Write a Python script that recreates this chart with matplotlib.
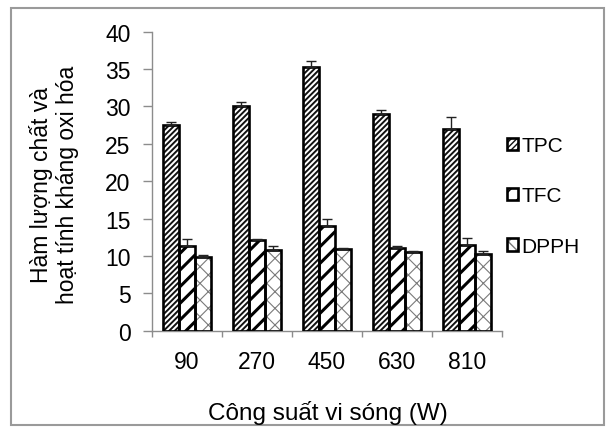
import numpy as np
import matplotlib
matplotlib.use("Agg")
import matplotlib.pyplot as plt
from matplotlib.patches import Rectangle
from matplotlib.legend_handler import HandlerTuple

# --- DATA ---
powers = ["90", "270", "450", "630", "810"]
tpc = [27.5, 30.0, 35.3, 29.0, 27.0]
tpc_err = [0.4, 0.6, 0.8, 0.5, 1.6]
tfc = [11.3, 12.1, 14.0, 11.1, 11.4]
tfc_err = [1.0, 0.2, 0.9, 0.2, 1.0]
dpph = [9.9, 10.8, 10.9, 10.5, 10.2]
dpph_err = [0.2, 0.5, 0.2, 0.1, 0.5]

series = ["TPC", "TFC", "DPPH"]
values = [tpc, tfc, dpph]
errors = [tpc_err, tfc_err, dpph_err]

# --- STYLE ---
plt.rcParams["font.family"] = ["Liberation Sans", "DejaVu Sans"]
hatches = ["//////", "//", "xx"]
hatch_colors = ["#111111", "#000000", "#7a7a7a"]
hatch_widths = [1.4, 2.2, 0.8]
axis_gray = "#8c8c8c"

fig = plt.figure(figsize=(6.06, 4.31), dpi=100)
ax = fig.add_axes([152 / 606, 1 - 331.7 / 431, 350 / 606, 299 / 431])

x = np.arange(len(powers))
width = 0.225
handles = []
for i, (name, vals, errs) in enumerate(zip(series, values, errors)):
    pos = x + (i - 1) * width
    with plt.rc_context({"hatch.linewidth": hatch_widths[i]}):
        hb = ax.bar(pos, vals, width, color="white", edgecolor=hatch_colors[i],
                    hatch=hatches[i], linewidth=0, zorder=2)
        for p in hb:
            if hasattr(p, "set_hatch_linewidth"):
                p.set_hatch_linewidth(hatch_widths[i])
    eb = ax.bar(pos, vals, width, fill=False, edgecolor="black", linewidth=1.9, zorder=3)
    ax.errorbar(pos, vals, yerr=[np.zeros(len(errs)), errs], fmt="none",
                ecolor="#222222", elinewidth=1.0, capsize=3.6, capthick=1.0, zorder=4)
    handles.append((hb[0], eb[0]))

# --- AXES ---
ax.set_xlim(-0.5, len(powers) - 0.5)
ax.set_ylim(0, 40)
ax.set_yticks(np.arange(0, 41, 5))
ax.set_xticks(np.arange(-0.5, len(powers), 1.0))
ax.set_xticklabels([])
ax.set_xticks(x, powers, minor=True)
ax.tick_params(axis="x", which="minor", length=0, pad=14, labelsize=16.5)
ax.tick_params(axis="x", which="major", length=4.5, color=axis_gray, width=1)
ax.tick_params(axis="y", length=6.5, color=axis_gray, width=1, pad=9, labelsize=16.5)
for s in ["top", "right"]:
    ax.spines[s].set_visible(False)
for s in ["left", "bottom"]:
    ax.spines[s].set_color(axis_gray)
    ax.spines[s].set_linewidth(1)

# --- LABELS ---
fig.text(54 / 606, 1 - 185 / 431, "Hàm lượng chất và\nhoạt tính kháng oxi hóa",
         rotation=90, ha="center", va="center", multialignment="center",
         fontsize=16.5, linespacing=1.2)
fig.text(328 / 606, 1 - 420 / 431, "Công suất vi sóng (W)", ha="center",
         va="baseline", fontsize=17.5)

fig.legend(handles, series, handler_map={tuple: HandlerTuple(ndivide=1)},
           loc="center left", bbox_to_anchor=(507 / 606, 1 - 197 / 431),
           frameon=False, fontsize=15, handlelength=0.55, handleheight=0.55,
           handletextpad=0.15, labelspacing=1.5, borderpad=0, borderaxespad=0)

# figure frame
fig.patches.append(Rectangle((11 / 606, 5 / 431), 593 / 606, 417 / 431,
                             transform=fig.transFigure, fill=False,
                             edgecolor="#9a9a9a", linewidth=1.5))

fig.savefig("out.png", dpi=100)
